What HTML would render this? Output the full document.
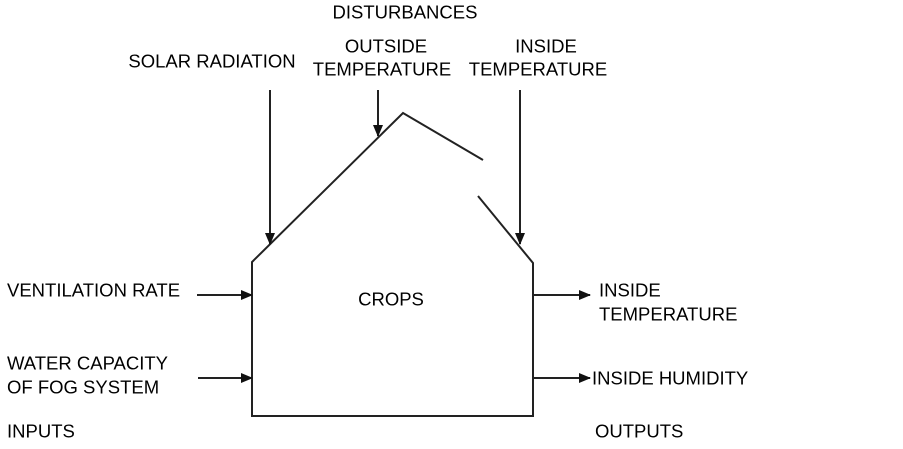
<!DOCTYPE html>
<html><head><style>
body{margin:0;background:#fff;}
svg text{font-family:"Liberation Sans",Arial,sans-serif;font-size:18.5px;fill:#000;dominant-baseline:central;}
</style></head><body>
<svg width="903" height="444" viewBox="0 0 903 444" xmlns="http://www.w3.org/2000/svg">
<defs><marker id="b" markerWidth="12" markerHeight="10" refX="11" refY="5" orient="auto" markerUnits="userSpaceOnUse"><path d="M0,0 L12,5 L0,10 z" fill="#111"/></marker></defs>
<g stroke="#222" stroke-width="2" fill="none">
<polyline points="483,160 403,113 252,262 252,416 533,416 533,263 478,196"/>
<line x1="270" y1="90" x2="270" y2="244" marker-end="url(#b)"/>
<line x1="378" y1="90" x2="378" y2="136" marker-end="url(#b)"/>
<line x1="520" y1="90" x2="520" y2="244" marker-end="url(#b)"/>
<line x1="197" y1="295" x2="252" y2="295" marker-end="url(#b)"/>
<line x1="198" y1="378" x2="252" y2="378" marker-end="url(#b)"/>
<line x1="533" y1="295" x2="590" y2="295" marker-end="url(#b)"/>
<line x1="533" y1="378" x2="590" y2="378" marker-end="url(#b)"/>
</g>
<text x="405" y="12" text-anchor="middle">DISTURBANCES</text>
<text x="212" y="61" text-anchor="middle">SOLAR RADIATION</text>
<text x="386" y="46" text-anchor="middle">OUTSIDE</text>
<text x="382" y="69" text-anchor="middle">TEMPERATURE</text>
<text x="546" y="46" text-anchor="middle">INSIDE</text>
<text x="538" y="69" text-anchor="middle">TEMPERATURE</text>
<text x="391" y="299" text-anchor="middle">CROPS</text>
<text x="7" y="290">VENTILATION RATE</text>
<text x="7" y="363">WATER CAPACITY</text>
<text x="7" y="387">OF FOG SYSTEM</text>
<text x="7" y="431">INPUTS</text>
<text x="599" y="290">INSIDE</text>
<text x="599" y="314">TEMPERATURE</text>
<text x="592" y="378">INSIDE HUMIDITY</text>
<text x="595" y="431">OUTPUTS</text>
</svg>
</body></html>
